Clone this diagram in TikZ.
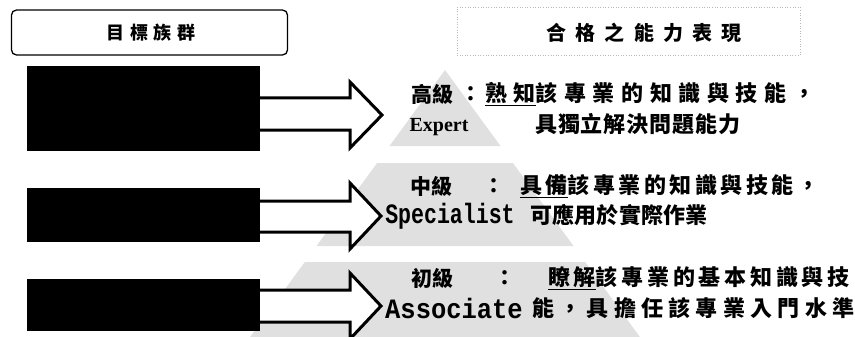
\documentclass[tikz,border=0pt]{standalone}
\usepackage{fontspec}
\newfontfamily\cjk{Noto Sans CJK TC}
\newfontfamily\latserif{Liberation Serif}
\newfontfamily\latmono{Liberation Mono}
\newcommand\lsp[2]{{\addfontfeatures{LetterSpace=#1}#2}}
\newcommand\cjksize[1]{\cjk\bfseries\fontsize{#1}{#1}\selectfont}
\begin{document}
\begin{tikzpicture}[x=1pt,y=-1pt,
  band/.style={fill=gray!24,draw=none},
  blackbox/.style={fill=black,draw=none,inner sep=0pt},
  barrow/.style={draw=black,fill=white,line width=3pt,line join=miter},
  cjkt/.style={font=\cjksize{22},inner sep=0pt,anchor=west},
  lvl/.style={font=\cjksize{21},inner sep=0pt,anchor=center},
  colon/.style={font=\cjksize{21},inner sep=0pt,anchor=center},
  eng/.style={inner sep=0pt,anchor=center}]
\useasboundingbox (0,0) rectangle (855,337);
% pyramid bands
\fill[band] (445,70) -- (500.5,146) -- (389.5,146) -- cycle;
\fill[band] (377.1,163) -- (512.9,163) -- (573.5,246) -- (316.5,246) -- cycle;
\fill[band] (304.8,262) -- (585.2,262) -- (639.9,337) -- (250.1,337) -- cycle;
% headers
\node[draw=black,line width=1.3pt,rounded corners=5pt,minimum width=276pt,minimum height=45pt,inner sep=0pt] (h1) at (149.5,32.5) {};
\node[font=\cjksize{18},inner sep=0pt] (h1t) at (151,33) {\lsp{30}{目標族群}};
\node[draw=gray!55,dotted,line width=0.6pt,minimum width=343pt,minimum height=48pt,inner sep=0pt] (h2) at (628.5,31) {};
\node[font=\cjksize{20},inner sep=0pt] (h2t) at (644,33) {\lsp{46}{合格之能力表現}};
% black boxes
\node[blackbox,minimum width=233pt,minimum height=85pt] (r1) at (143.5,108.5) {};
\node[blackbox,minimum width=233pt,minimum height=54pt] (r2) at (143.5,215) {};
\node[blackbox,minimum width=233pt,minimum height=52pt] (r3) at (143.5,305) {};
% arrow tips
\coordinate (t1) at (382,115);
\coordinate (t2) at (381,216);
\coordinate (t3) at (381,306);
\draw[barrow] (r1.east |- 0,98) -- (350,98) -- (350,82) -- (t1) -- (350,148) -- (350,130) -- (r1.east |- 0,130);
\draw[barrow] (r2.east |- 0,201) -- (350,201) -- (350,183) -- (t2) -- (350,249) -- (350,232) -- (r2.east |- 0,232);
\draw[barrow] (r3.east |- 0,290) -- (350,290) -- (350,273) -- (t3) -- (350,339) -- (350,322) -- (r3.east |- 0,322);
% level names
\node[lvl] (l1) at (432,94) {高級};
\node[lvl] (l2) at (431,186) {中級};
\node[lvl] (l3) at (432,278) {初級};
\node[eng,font=\latserif\bfseries\fontsize{20}{20}\selectfont] (e1) at (439,127) {Expert};
\node[eng] (e2) at (450,216) {\scalebox{0.77}[1]{\latmono\bfseries\fontsize{28}{28}\selectfont Specialist}};
\node[eng] (e3) at (454,308) {\scalebox{0.91}[1]{\latmono\bfseries\fontsize{28}{28}\selectfont Associate}};
% colons
\node[colon] (c1) at (471,94) {：};
\node[colon] (c2) at (494,186) {：};
\node[colon] (c3) at (505,278) {：};
% descriptions
\node[cjkt] (d1a) at (485,94) {\lsp{30}{\underline{熟知}該專業的知識與技能，}};
\node[cjkt] (d1b) at (535,124) {\lsp{4}{具獨立解決問題能力}};
\node[cjkt] (d2a) at (520,186) {\lsp{16}{\underline{具備}該專業的知識與技能，}};
\node[cjkt] (d2b) at (530,215) {\lsp{1}{可應用於實際作業}};
\node[cjkt] (d3a) at (548,278) {\lsp{17}{\underline{瞭解}該專業的基本知識與技}};
\node[cjkt] (d3b) at (532,308) {\lsp{24}{能，具擔任該專業入門水準}};
\end{tikzpicture}
\end{document}
